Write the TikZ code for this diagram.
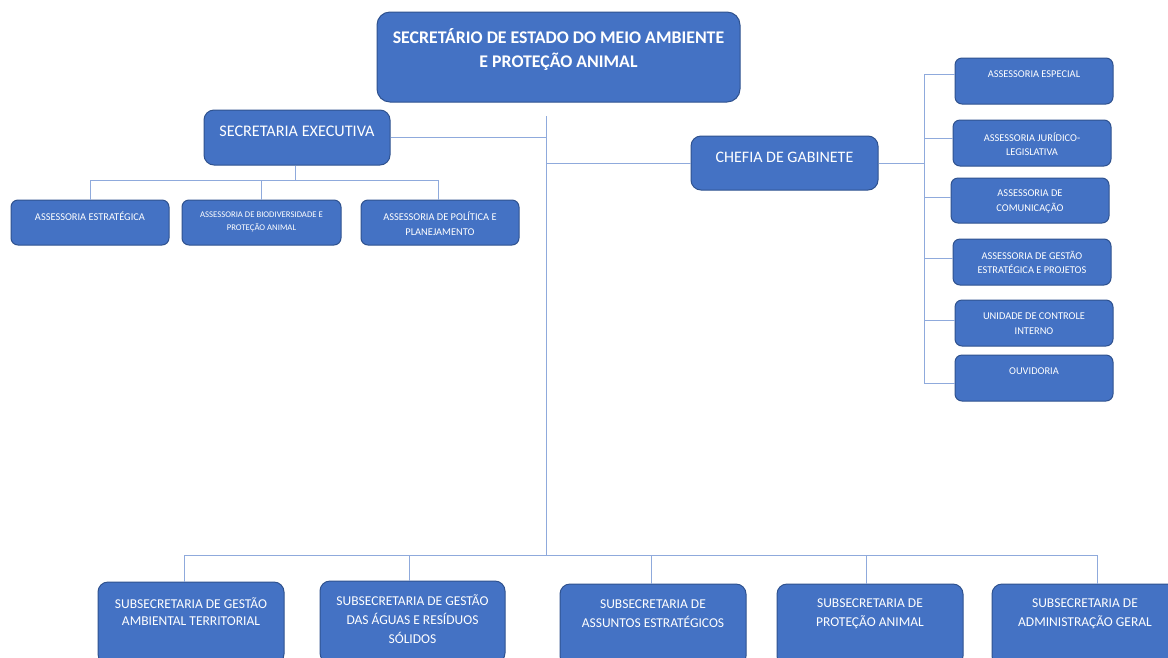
\documentclass[tikz,border=0pt]{standalone}
\usepackage{fontspec}
\setmainfont{Carlito}
\definecolor{boxfill}{HTML}{4472C4}
\definecolor{boxline}{HTML}{2F528F}
\definecolor{connc}{HTML}{8FAADC}
\begin{document}
\begin{tikzpicture}[x=1pt,y=-1pt,
  box/.style={draw=boxline, fill=boxfill, line width=1pt, rounded corners=7pt, inner sep=0pt},
  bigbox/.style={box, rounded corners=13pt},
  midbox/.style={box, rounded corners=10pt},
  txt/.style={text=white, align=center, inner sep=0pt},
  ttop/.style={txt, font=\fontsize{17.8}{24}\selectfont\bfseries},
  tmid/.style={txt, font=\fontsize{16.2}{18}\selectfont},
  tbot/.style={txt, font=\fontsize{13.5}{19}\selectfont},
  tsmall/.style={txt, font=\fontsize{10.4}{14.5}\selectfont},
  ttiny/.style={txt, font=\fontsize{8.7}{13}\selectfont},
  conn/.style={draw=connc, line width=1pt}]
\useasboundingbox (0,0) rectangle (1168,657);
\fill[white] (0,0) rectangle (1168,657);
\clip (0,0) rectangle (1168,657);

% ---- connector coordinates
\coordinate (trunkTop) at (546,116);
\coordinate (trunkBot) at (546,555);
\coordinate (rTop) at (924,74);
\coordinate (rBot) at (924,383);
\coordinate (lbusL) at (90,180);
\coordinate (lbusR) at (438,180);
\coordinate (lbusC) at (295,180);
\coordinate (bbusL) at (184,555);
\coordinate (bbusR) at (1097,555);
\coordinate (d2) at (409,555);
\coordinate (d3) at (651,555);
\coordinate (d4) at (866,555);
\coordinate (la2) at (261,180);
\coordinate (r2) at (924,138);
\coordinate (r3) at (924,197);
\coordinate (r4) at (924,258);
\coordinate (r5) at (924,320);

% ---- boxes
\node[bigbox, minimum width=363pt, minimum height=90pt] (top) at (558.5,57) {};
\node[midbox, minimum width=186pt, minimum height=55pt] (secexec) at (297,137.5) {};
\node[midbox, minimum width=187pt, minimum height=54pt] (chefia) at (784.5,163) {};

\node[box, minimum width=158pt, minimum height=45pt] (a1) at (90,222.5) {};
\node[box, minimum width=159pt, minimum height=45pt] (a2) at (261.5,222.5) {};
\node[box, minimum width=158pt, minimum height=45pt] (a3) at (440,222.5) {};

\node[box, minimum width=158pt, minimum height=46pt] (rb1) at (1034,81) {};
\node[box, minimum width=158pt, minimum height=46pt] (rb2) at (1032,143) {};
\node[box, minimum width=158pt, minimum height=45pt] (rb3) at (1030,200.5) {};
\node[box, minimum width=158pt, minimum height=46pt] (rb4) at (1032,262) {};
\node[box, minimum width=158pt, minimum height=46pt] (rb5) at (1034,323) {};
\node[box, minimum width=158pt, minimum height=46pt] (rb6) at (1034,378) {};

\node[midbox, minimum width=186pt, minimum height=82pt] (b1) at (191,623) {};
\node[midbox, minimum width=185pt, minimum height=82pt] (b2) at (412.5,622) {};
\node[midbox, minimum width=186pt, minimum height=82pt] (b3) at (653,625) {};
\node[midbox, minimum width=186pt, minimum height=82pt] (b4) at (870,625) {};
\node[midbox, minimum width=186pt, minimum height=82pt] (b5) at (1085,625) {};

% ---- texts
\node[ttop] (topT) at (558.5,50) {SECRETÁRIO DE ESTADO DO MEIO AMBIENTE\\E PROTEÇÃO ANIMAL};
\node[tmid] (secexecT) at (297,131) {SECRETARIA EXECUTIVA};
\node[tmid, font=\fontsize{16}{18}\selectfont] (chefiaT) at (784.5,157) {CHEFIA DE GABINETE};

\node[tsmall] (a1T) at (90,216) {ASSESSORIA ESTRATÉGICA};
\node[ttiny] (a2T) at (261.5,221.5) {ASSESSORIA DE BIODIVERSIDADE E\\PROTEÇÃO ANIMAL};
\node[tsmall, font=\fontsize{10.4}{15}\selectfont] (a3T) at (440,223.5) {ASSESSORIA DE POLÍTICA E\\PLANEJAMENTO};

\node[tsmall] (rb1T) at (1034,74) {ASSESSORIA ESPECIAL};
\node[tsmall] (rb2T) at (1032,144) {ASSESSORIA JURÍDICO-\\LEGISLATIVA};
\node[tsmall] (rb3T) at (1030,201.5) {ASSESSORIA DE\\COMUNICAÇÃO};
\node[tsmall] (rb4T) at (1032,262.5) {ASSESSORIA DE GESTÃO\\ESTRATÉGICA E PROJETOS};
\node[tsmall] (rb5T) at (1034,323.5) {UNIDADE DE CONTROLE\\INTERNO};
\node[tsmall] (rb6T) at (1034,371) {OUVIDORIA};

\node[tbot, font=\fontsize{13.5}{17.5}\selectfont] (b1T) at (191,611.5) {SUBSECRETARIA DE GESTÃO\\AMBIENTAL TERRITORIAL};
\node[tbot] (b2T) at (412.5,619) {SUBSECRETARIA DE GESTÃO\\DAS ÁGUAS E RESÍDUOS\\SÓLIDOS};
\node[tbot] (b3T) at (653,613.5) {SUBSECRETARIA DE\\ASSUNTOS ESTRATÉGICOS};
\node[tbot] (b4T) at (870,613.5) {SUBSECRETARIA DE\\PROTEÇÃO ANIMAL};
\node[tbot] (b5T) at (1085,613.5) {SUBSECRETARIA DE\\ADMINISTRAÇÃO GERAL};

% ---- connectors
\draw[conn] (trunkTop) -- (trunkBot);
\draw[conn] (secexec.east) -- (secexec.east -| trunkTop);
\draw[conn] (chefia.west) -- (chefia.west -| trunkTop);

\draw[conn] (chefia.east) -- (chefia.east -| rTop);
\draw[conn] (rTop) -- (rBot);
\draw[conn] (rTop) -- (rTop -| rb1.west);
\draw[conn] (r2) -- (r2 -| rb2.west);
\draw[conn] (r3) -- (r3 -| rb3.west);
\draw[conn] (r4) -- (r4 -| rb4.west);
\draw[conn] (r5) -- (r5 -| rb5.west);
\draw[conn] (rBot) -- (rBot -| rb6.west);

\draw[conn] (lbusC |- secexec.south) -- (lbusC);
\draw[conn] (lbusL) -- (lbusR);
\draw[conn] (lbusL) -- (lbusL |- a1.north);
\draw[conn] (la2) -- (la2 |- a2.north);
\draw[conn] (lbusR) -- (lbusR |- a3.north);

\draw[conn] (bbusL) -- (bbusR);
\draw[conn] (bbusL) -- (bbusL |- b1.north);
\draw[conn] (d2) -- (d2 |- b2.north);
\draw[conn] (d3) -- (d3 |- b3.north);
\draw[conn] (d4) -- (d4 |- b4.north);
\draw[conn] (bbusR) -- (bbusR |- b5.north);
\end{tikzpicture}
\end{document}
